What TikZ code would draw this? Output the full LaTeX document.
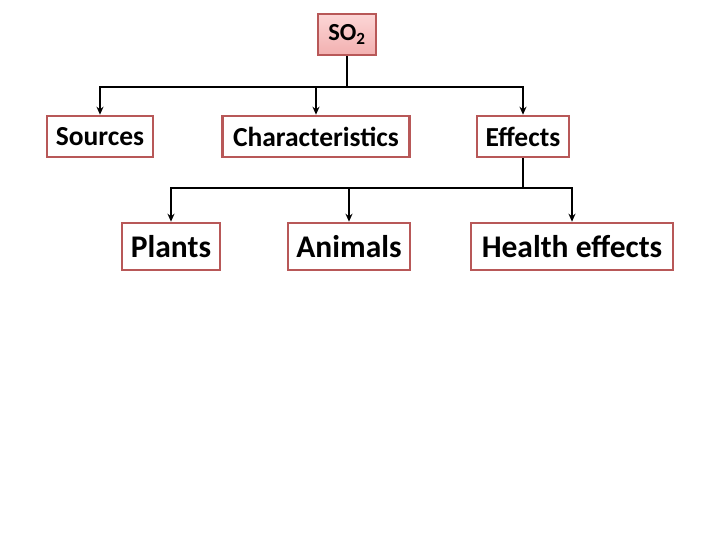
\documentclass[tikz,border=0pt]{standalone}
\usepackage{fontspec}
\setmainfont{Carlito}
\usepackage{tikz}
\usetikzlibrary{arrows.meta,positioning}
\definecolor{boxred}{RGB}{184,88,88}
\definecolor{pinktop}{RGB}{252,214,214}
\definecolor{pinkbot}{RGB}{242,176,176}
\newcommand{\rowafont}{\fontsize{27.5}{30}\bfseries}
\newcommand{\rowbfont}{\fontsize{31.5}{34}\bfseries}

\begin{document}
\begin{tikzpicture}[x=1pt,y=-1pt,>={Stealth[length=8pt,width=7pt]},
  box/.style={draw=boxred,line width=2.6pt,inner sep=0pt,fill=white},
  link/.style={line width=1.8pt},
  linkb/.style={line width=2.6pt}]
  \useasboundingbox (0,0) rectangle (720,540);
  % top node
  \node[box,top color=pinktop,bottom color=pinkbot,minimum width=58pt,minimum height=41pt,
    font=\fontsize{24.5}{27}\bfseries] (so2) at (347,34.5) {SO\textsubscript{2}};
  % first row
  \foreach \n/\t/\x/\w in {src/Sources/100/106,chr/Characteristics/316/187,eff/Effects/523/92}
    \node[box,minimum width=\w pt,minimum height=41pt,font=\rowafont] (\n) at (\x,136.5) {\t};
  % second row
  \foreach \n/\t/\x/\w in {pla/Plants/171/98,ani/Animals/349/122,hea/Health effects/572/202}
    \node[box,minimum width=\w pt,minimum height=47pt,font=\rowbfont] (\n) at (\x,246.5) {\t};
  \coordinate (busa) at (347,87);
  \coordinate (busb) at (523,188);
  \foreach \n in {src,chr,eff} \draw[link,->] (so2.south) -- (busa) -| (\n.north);
  \foreach \n in {pla,ani,hea} \draw[linkb,->] (eff.south) -- (busb) -| (\n.north);
\end{tikzpicture}
\end{document}
